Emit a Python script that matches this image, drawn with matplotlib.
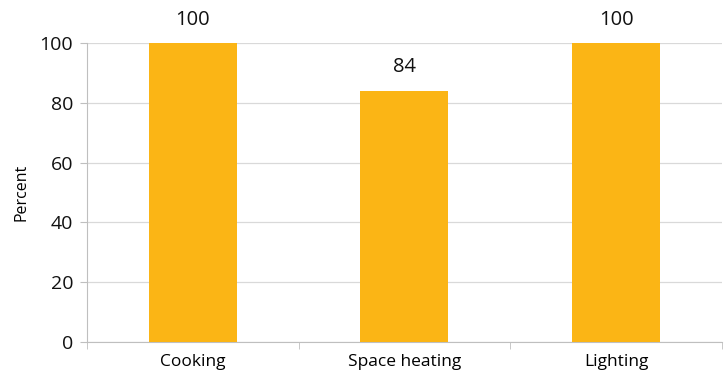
import numpy as np
import matplotlib.pyplot as plt

# Values
categories = ["Cooking", "Space heating", "Lighting"]
percent = [100, 84, 100]
yticks = [0, 20, 40, 60, 80, 100]

plt.rcParams['font.family'] = ['Open Sans', 'DejaVu Sans']

fig = plt.figure(figsize=(7.27, 3.74), dpi=100)
ax = fig.add_axes([0.1197, 0.0856, 0.8733, 0.7994])

x = np.arange(len(categories))
bars = ax.bar(x, percent, width=0.416, color="#FBB515", zorder=3)

for xi, v in zip(x, percent):
    ax.text(xi, v + 4.5, str(v), ha="center", va="bottom", fontsize=14.5, color="#111111")

ax.set_xlim(-0.5, len(categories) - 0.5)
ax.set_ylim(0, 100)
ax.set_yticks(yticks)
ax.set_yticklabels([str(t) for t in yticks], fontsize=14)
ax.set_xticks(x)
ax.set_xticklabels(categories, fontsize=12.5)
ax.set_xticks(np.arange(-0.5, len(categories)), minor=True)
ax.tick_params(axis="x", which="major", length=0, pad=9)
ax.tick_params(axis="x", which="minor", length=5, color="#bfbfbf", direction="out")
ax.tick_params(axis="y", length=5, pad=5, labelcolor="#111111", color="#bfbfbf")
ax.set_ylabel("Percent", fontsize=11.5, labelpad=7)

ax.grid(axis="y", color="#d9d9d9", linewidth=0.9, zorder=0)
for s in ["top", "right"]:
    ax.spines[s].set_visible(False)
for s in ["left", "bottom"]:
    ax.spines[s].set_color("#bfbfbf")

fig.savefig("out.png", dpi=100)
